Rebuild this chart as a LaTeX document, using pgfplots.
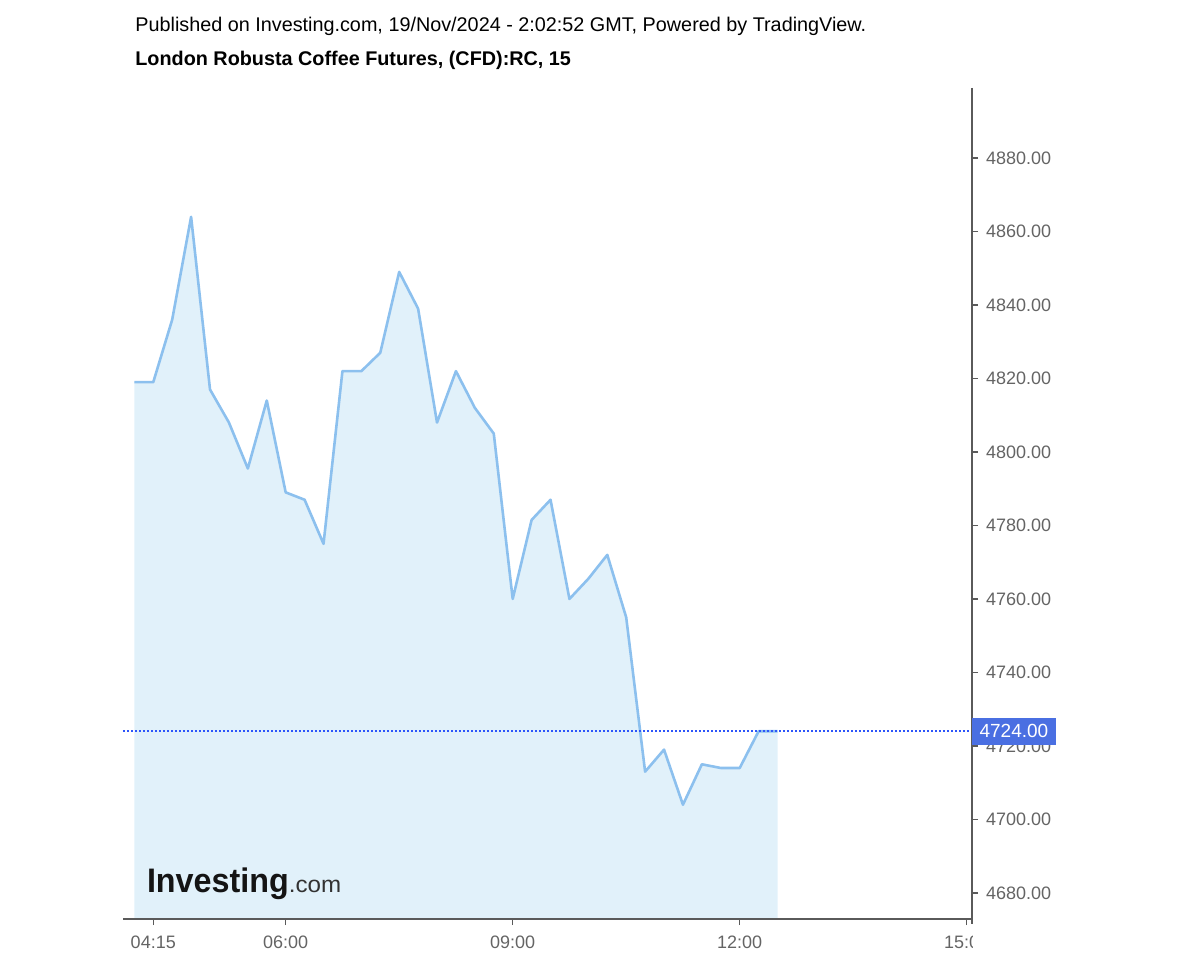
\documentclass[border=0pt]{standalone}
\usepackage{fontspec}
\setmainfont{Liberation Sans}
\usepackage{graphicx}
\usepackage{pgfplots}
\pgfplotsset{compat=1.18}
\definecolor{linec}{RGB}{140,192,238}
\definecolor{fillc}{RGB}{225,241,250}
\definecolor{axc}{RGB}{90,90,90}
\definecolor{tickc}{RGB}{100,100,100}
\definecolor{pricec}{RGB}{74,111,226}
\definecolor{dotc}{RGB}{45,85,250}
\begin{document}
\begin{tikzpicture}[x=1pt,y=1pt]
\path (0,0) rectangle (600,480);
\begin{axis}[
  at={(61.5pt,20.5pt)}, anchor=south west,
  scale only axis, width=424.5pt, height=415.5pt,
  xmin=3.85, xmax=15.07, ymin=4672.9, ymax=4899.05,
  axis x line*=bottom, axis y line*=right,
  axis line style={draw=none},
  clip mode=individual,
  tick align=outside, major tick length=3pt,
  tick style={axc, line width=0.6pt},
  xtick={4.25,6,9,12,15},
  xticklabels={04:15,06:00,09:00,12:00,15:00},
  ytick={4680,4700,...,4880},
  yticklabel style={/pgf/number format/fixed, /pgf/number format/fixed zerofill, /pgf/number format/precision=2, /pgf/number format/1000 sep={}, xshift=0.5pt},
  /pgf/number format/assume math mode=true,
  ticklabel style={font=\fontsize{9}{10}\selectfont, text=tickc},
  xticklabel style={yshift=-2pt},
  grid=none,
]
\addplot[fill=fillc, draw=none] coordinates {
(4.00,4819) (4.25,4819) (4.50,4836) (4.75,4864) (5.00,4817) (5.25,4808)
(5.50,4795.5) (5.75,4814) (6.00,4789) (6.25,4787) (6.50,4775) (6.75,4822)
(7.00,4822) (7.25,4827) (7.50,4849) (7.75,4839) (8.00,4808) (8.25,4822)
(8.50,4812) (8.75,4805) (9.00,4760) (9.25,4781.5) (9.50,4787) (9.75,4760)
(10.00,4765.5) (10.25,4772) (10.50,4755) (10.75,4713) (11.00,4719) (11.25,4704)
(11.50,4715) (11.75,4714) (12.00,4714) (12.25,4724) (12.50,4724)
} \closedcycle;
\addplot[linec, line width=1.3pt, line join=round] coordinates {
(4.00,4819) (4.25,4819) (4.50,4836) (4.75,4864) (5.00,4817) (5.25,4808)
(5.50,4795.5) (5.75,4814) (6.00,4789) (6.25,4787) (6.50,4775) (6.75,4822)
(7.00,4822) (7.25,4827) (7.50,4849) (7.75,4839) (8.00,4808) (8.25,4822)
(8.50,4812) (8.75,4805) (9.00,4760) (9.25,4781.5) (9.50,4787) (9.75,4760)
(10.00,4765.5) (10.25,4772) (10.50,4755) (10.75,4713) (11.00,4719) (11.25,4704)
(11.50,4715) (11.75,4714) (12.00,4714) (12.25,4724) (12.50,4724)
};
\addplot[dotc, line width=0.75pt, dash pattern=on 0.9pt off 1.1pt] coordinates {(3.85,4724) (15.07,4724)};
\draw[axc, line width=0.8pt] (axis cs:3.85,4672.9) -- (axis cs:15.085,4672.9);
\draw[axc, line width=0.8pt] (axis cs:15.07,4899.05) -- (axis cs:15.07,4671.5);
\coordinate (pr) at (axis cs:15.07,4724);
\end{axis}
\fill[white] (486.5,0) rectangle (500,17);
\node[anchor=west, fill=pricec, text=white, inner xsep=3.8pt, minimum height=12pt,
      font=\fontsize{9.5}{10}\selectfont, xshift=-0.2pt] at (pr) {4724.00};
\node[anchor=base west, inner sep=0pt, font=\fontsize{9.9}{11}\selectfont] at (67.5,464)
  {Published on Investing.com, 19/Nov/2024 - 2:02:52 GMT, Powered by TradingView.};
\node[anchor=base west, inner sep=0pt, font=\bfseries\fontsize{9.9}{11}\selectfont] at (67.5,447)
  {London Robusta Coffee Futures, (CFD):RC, 15};
\node[anchor=base west, inner sep=0pt] at (73.3,33.7)
  {\scalebox{0.95}[1]{\color[RGB]{20,20,20}\fontsize{17}{18}\selectfont\bfseries Investing}\scalebox{1.05}[1]{\color[RGB]{50,50,50}\fontsize{11.5}{13}\selectfont .com}};
\end{tikzpicture}
\end{document}
